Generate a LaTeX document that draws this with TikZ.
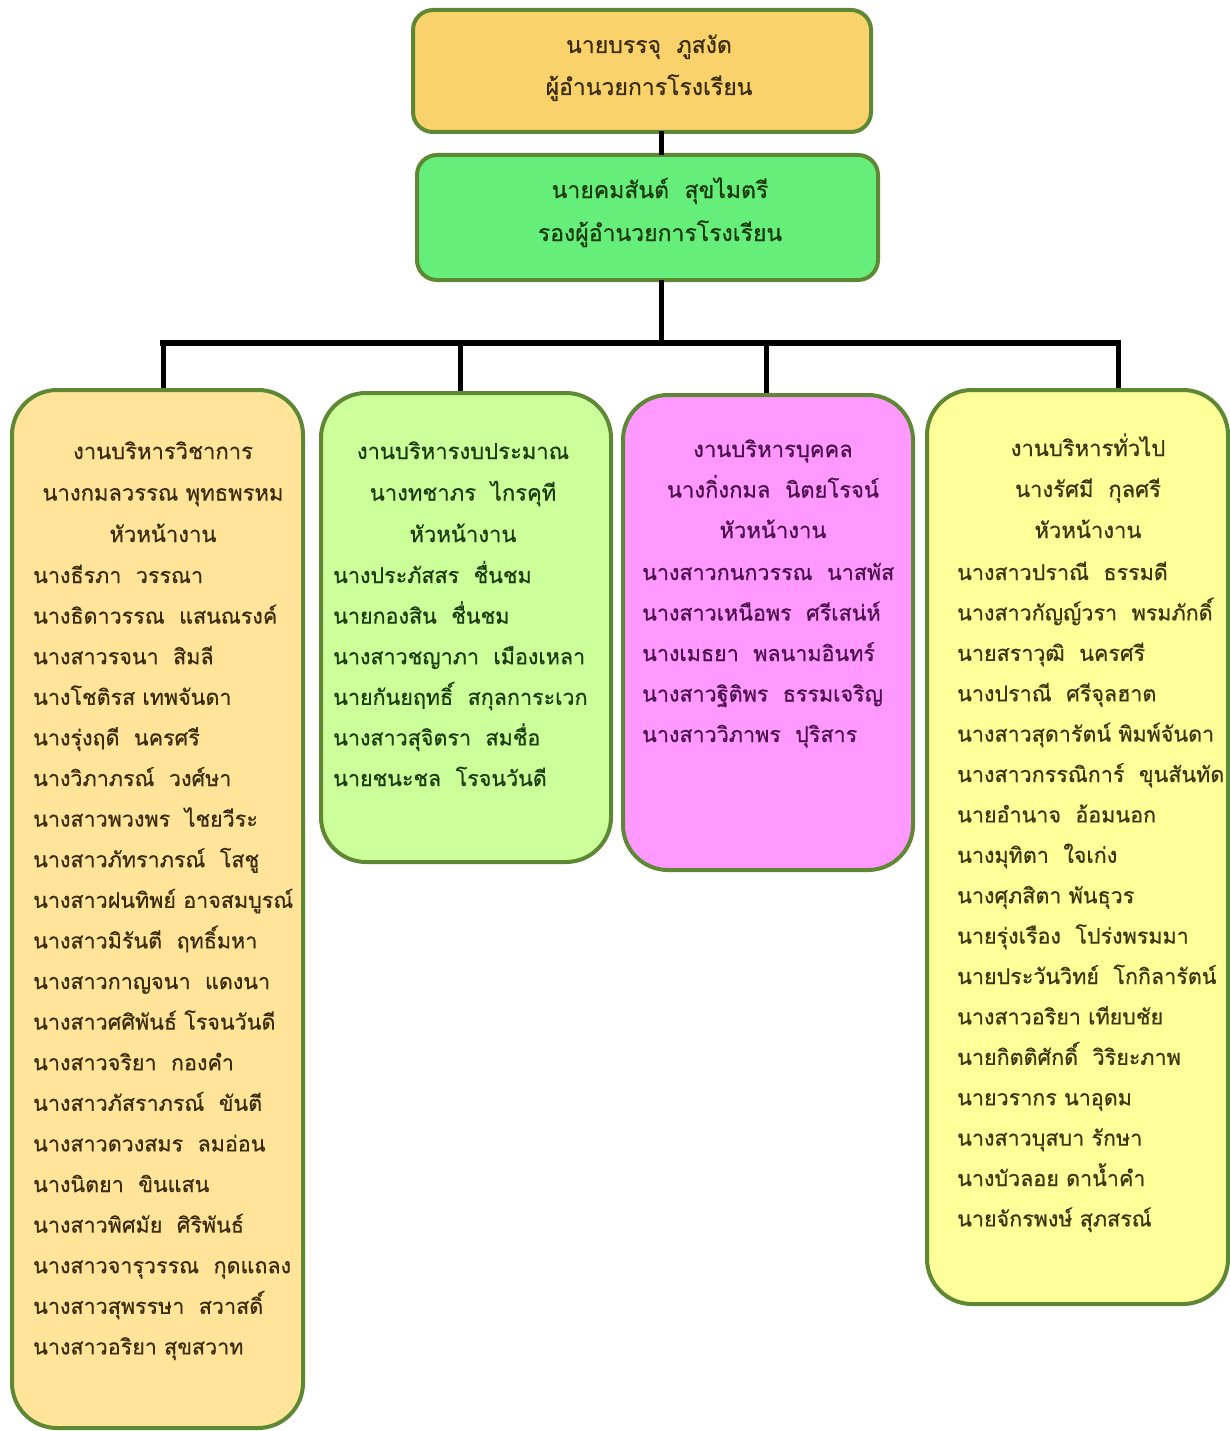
\documentclass[tikz,border=0pt]{standalone}
\usepackage{fontspec}
\newfontfamily\thai[Script=Thai, FakeBold=0.6]{Loma}
\usetikzlibrary{positioning}
\definecolor{boxedge}{RGB}{94,136,52}
\definecolor{bossgold}{RGB}{250,210,108}
\definecolor{deputygreen}{RGB}{102,238,122}
\definecolor{acadfill}{RGB}{255,228,154}
\definecolor{budgetfill}{RGB}{204,255,153}
\definecolor{staffill}{RGB}{255,153,255}
\definecolor{genfill}{RGB}{255,255,153}
\definecolor{acadtxt}{RGB}{58,44,10}
\definecolor{budgettxt}{RGB}{28,58,12}
\definecolor{stafftxt}{RGB}{74,16,74}
\definecolor{gentxt}{RGB}{56,54,10}

\tikzset{
	orgbox/.style={rectangle, draw=boxedge, line width=4pt, rounded corners=20pt},
	teambox/.style={orgbox, rounded corners=45pt},
	link/.style={draw=black, line width=5pt, line cap=rect},
	txt/.style={inner sep=0pt, font=\thai\fontsize{21.5}{40.6}\selectfont},
}

\begin{document}
\begin{tikzpicture}[x=1pt, y=-1pt]
	\path[use as bounding box, fill=white] (0,0) rectangle (1230,1431);

	\node[orgbox, fill=bossgold, minimum width=458pt, minimum height=122pt] (boss) at (642,71) {};
	\node[orgbox, fill=deputygreen, minimum width=461pt, minimum height=125pt] (deputy) at (647.5,217.5) {};
	% multi-line nodes sit on their last baseline
	\node[txt, acadtxt, align=center, anchor=base, font=\thai\fontsize{23}{42}\selectfont] (bossname) at (649,95) {นายบรรจุ~ ภูสงัด\\ผู้อำนวยการโรงเรียน};
	\node[txt, budgettxt, align=center, anchor=base, font=\thai\fontsize{23}{43}\selectfont] (deputyname) at (660,241) {นายคมสันต์~ สุขไมตรี\\รองผู้อำนวยการโรงเรียน};

	\node[teambox, fill=acadfill, minimum width=291pt, minimum height=1038pt] (acad) at (157.5,909) {};
	\node[teambox, fill=budgetfill, minimum width=290pt, minimum height=469pt] (budget) at (466,627.5) {};
	\node[teambox, fill=staffill, minimum width=290pt, minimum height=475pt] (staff) at (768,632.5) {};
	\node[teambox, fill=genfill, minimum width=301pt, minimum height=914pt] (general) at (1077.5,847) {};

	% connectors
	\coordinate (hub) at (661,343);
	\coordinate (d1) at (163,343);
	\coordinate (d2) at (460,343);
	\coordinate (d3) at (766,343);
	\coordinate (d4) at (1118,343);
	\draw[link] (boss.south -| hub) -- (deputy.north -| hub);
	\draw[link] (deputy.south -| hub) -- (hub);
	\draw[link, line width=6pt] (d1) -- (d4);
	\draw[link, line cap=butt] (d1) -- (acad.north -| d1);
	\draw[link, line cap=butt] (d2) -- (budget.north -| d2);
	\draw[link, line cap=butt] (d3) -- (staff.north -| d3);
	\draw[link, line cap=butt] (d4) -- (general.north -| d4);

	% academic
	\node[txt, acadtxt, align=center, anchor=base, font=\thai\fontsize{22}{41.5}\selectfont] (acadhead) at (163,542) {งานบริหารวิชาการ\\นางกมลวรรณ พุทธพรหม\\หัวหน้างาน};
	\node[txt, acadtxt, align=left, anchor=base west] (acadlist) at (33,1354.4) {นางธีรภา~ วรรณา\\นางธิดาวรรณ~ แสนณรงค์\\นางสาวรจนา~ สิมลี\\นางโชติรส เทพจันดา\\นางรุ่งฤดี~ นครศรี\\นางวิภาภรณ์~ วงศ์ษา\\นางสาวพวงพร~ ไชยวีระ\\นางสาวภัทราภรณ์~ โสชู\\นางสาวฝนทิพย์ อาจสมบูรณ์\\นางสาวมิรันตี~ ฤทธิ์มหา\\นางสาวกาญจนา~ แดงนา\\นางสาวศศิพันธ์ โรจนวันดี\\นางสาวจริยา~ กองคำ\\นางสาวภัสราภรณ์~ ขันตี\\นางสาวดวงสมร~ ลมอ่อน\\นางนิตยา~ ขินแสน\\นางสาวพิศมัย~ ศิริพันธ์\\นางสาวจารุวรรณ~ กุดแถลง\\นางสาวสุพรรษา~ สวาสดิ์\\นางสาวอริยา สุขสวาท};

	% budget
	\node[txt, budgettxt, align=center, anchor=base, font=\thai\fontsize{22}{41.5}\selectfont] (budgethead) at (463,542) {งานบริหารงบประมาณ\\นางทชาภร~ ไกรคุที\\หัวหน้างาน};
	\node[txt, budgettxt, align=left, anchor=base west] (budgetlist) at (333,786) {นางประภัสสร~ ชื่นชม\\นายกองสิน~ ชื่นชม\\นางสาวชญาภา~ เมืองเหลา\\นายกันยฤทธิ์~ สกุลการะเวก\\นางสาวสุจิตรา~ สมชื่อ\\นายชนะชล~ โรจนวันดี};

	% personnel
	\node[txt, stafftxt, align=center, anchor=base, font=\thai\fontsize{22}{40.5}\selectfont] (staffhead) at (773,538) {งานบริหารบุคคล\\นางกิ่งกมล~ นิตยโรจน์\\หัวหน้างาน};
	\node[txt, stafftxt, align=left, anchor=base west, font=\thai\fontsize{21.5}{40.5}\selectfont] (stafflist) at (642,742) {นางสาวกนกวรรณ~ นาสพัส\\นางสาวเหนือพร~ ศรีเสน่ห์\\นางเมธยา~ พลนามอินทร์\\นางสาวฐิติพร~ ธรรมเจริญ\\นางสาววิภาพร~ ปุริสาร};

	% general
	\node[txt, gentxt, align=center, anchor=base, font=\thai\fontsize{22}{41}\selectfont] (genhead) at (1088,538) {งานบริหารทั่วไป\\นางรัศมี~ กุลศรี\\หัวหน้างาน};
	\node[txt, gentxt, align=left, anchor=base west, font=\thai\fontsize{21.5}{40.4}\selectfont] (genlist) at (957,1226.4) {นางสาวปราณี~ ธรรมดี\\นางสาวกัญญ์วรา~ พรมภักดิ์\\นายสราวุฒิ~ นครศรี\\นางปราณี~ ศรีจุลฮาต\\นางสาวสุดารัตน์ พิมพ์จันดา\\นางสาวกรรณิการ์~ ขุนสันทัด\\นายอำนาจ~ อ้อมนอก\\นางมุทิตา~ ใจเก่ง\\นางศุภสิตา พันธุวร\\นายรุ่งเรือง~ โปร่งพรมมา\\นายประวันวิทย์~ โกกิลารัตน์\\นางสาวอริยา เทียบชัย\\นายกิตติศักดิ์~ วิริยะภาพ\\นายวรากร นาอุดม\\นางสาวบุสบา รักษา\\นางบัวลอย ดาน้ำคำ\\นายจักรพงษ์ สุภสรณ์};
\end{tikzpicture}
\end{document}
